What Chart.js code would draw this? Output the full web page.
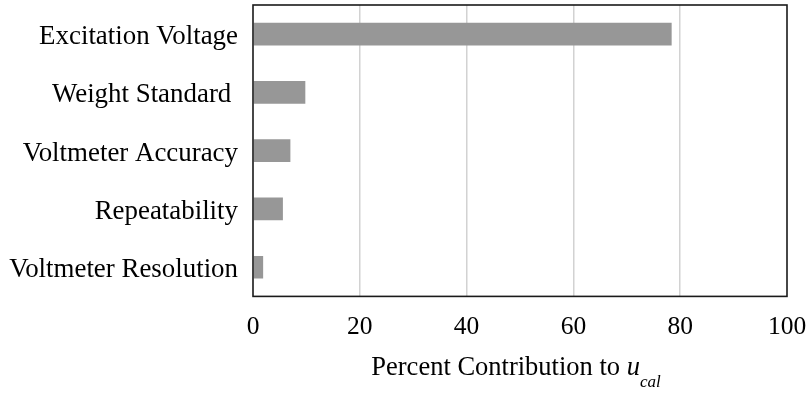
<!DOCTYPE html>
<html>
<head>
<meta charset="utf-8">
<script src="https://cdn.jsdelivr.net/npm/chart.js@4/dist/chart.umd.min.js"></script>
<style>
  html, body { margin: 0; padding: 0; background: #ffffff; }
  #wrap { width: 809px; height: 396px; position: relative; }
</style>
</head>
<body>
<div id="wrap"><canvas id="chart" width="809" height="396"></canvas></div>
<script>
// Uncertainty sources, listed top to bottom
const categories = [
  'Excitation Voltage',
  'Weight Standard ',
  'Voltmeter Accuracy',
  'Repeatability',
  'Voltmeter Resolution'
];
// Percent contribution of each source to the calibration uncertainty
const contributions = [78.4, 9.8, 7.0, 5.6, 1.9];
// Value axis ticks
const xTicks = [0, 20, 40, 60, 80, 100];
const axisTitleMain = 'Percent Contribution to ';
const axisTitleSymbol = 'u';
const axisTitleSubscript = 'cal';

const SERIF = '"Liberation Serif", "Times New Roman", serif';

// Black frame round the plot area
const frame = {
  id: 'frame',
  afterDatasetsDraw(chart) {
    const { ctx, chartArea: a } = chart;
    ctx.save();
    ctx.strokeStyle = '#1a1a1a';
    ctx.lineWidth = 1.6;
    ctx.strokeRect(a.left, a.top, a.right - a.left, a.bottom - a.top);
    ctx.restore();
  }
};

// Axis title with an italic symbol and subscript
const axisTitle = {
  id: 'axisTitle',
  afterDraw(chart) {
    const { ctx, chartArea: a } = chart;
    ctx.save();
    ctx.fillStyle = '#000000';
    ctx.textBaseline = 'alphabetic';
    ctx.textAlign = 'left';
    const mainFont = '26.5px ' + SERIF;
    const symFont = 'italic 26.5px ' + SERIF;
    const subFont = 'italic 17px ' + SERIF;
    ctx.font = mainFont; const w1 = ctx.measureText(axisTitleMain).width;
    ctx.font = symFont;  const w2 = ctx.measureText(axisTitleSymbol).width;
    ctx.font = subFont;  const w3 = ctx.measureText(axisTitleSubscript).width;
    const total = w1 + w2 + w3;
    let x = (a.left + a.right) / 2 - total / 2 - 4;
    const y = a.bottom + 79;
    ctx.font = mainFont; ctx.fillText(axisTitleMain, x, y); x += w1;
    ctx.font = symFont;  ctx.fillText(axisTitleSymbol, x, y); x += w2;
    ctx.font = subFont;  ctx.fillText(axisTitleSubscript, x, y + 12);
    ctx.restore();
  }
};

// Keep tick labels from pushing the plot area inwards
function noEdgePadding(axis) {
  axis.paddingTop = 0;
  axis.paddingBottom = 0;
  axis.paddingLeft = 0;
  axis.paddingRight = 0;
}

new Chart(document.getElementById('chart'), {
  type: 'bar',
  data: {
    labels: categories,
    datasets: [{
      data: contributions,
      backgroundColor: '#979797',
      borderWidth: 0,
      categoryPercentage: 1.0,
      barPercentage: 0.39
    }]
  },
  options: {
    indexAxis: 'y',
    responsive: false,
    animation: false,
    devicePixelRatio: 1,
    layout: { padding: { top: 5, right: 22, bottom: 37, left: 0 } },
    plugins: {
      legend: { display: false },
      tooltip: { enabled: false },
      title: { display: false }
    },
    scales: {
      x: {
        type: 'linear',
        min: 0,
        max: 100,
        afterBuildTicks(axis) { axis.ticks = xTicks.map(v => ({ value: v })); },
        afterFit: noEdgePadding,
        grid: {
          color: (c) => (c.tick && (c.tick.value === 0 || c.tick.value === 100)) ? 'rgba(0,0,0,0)' : '#d2d2d2',
          lineWidth: 1.5,
          drawTicks: false
        },
        border: { display: false },
        ticks: {
          color: '#000000',
          padding: 16,
          maxRotation: 0,
          font: { family: SERIF, size: 25.5 }
        }
      },
      y: {
        grid: { display: false, drawTicks: false },
        border: { display: false },
        afterFit(axis) { axis.width = 253; noEdgePadding(axis); },
        ticks: {
          color: '#000000',
          padding: 15,
          labelOffset: 3,
          font: { family: SERIF, size: 26.9 }
        }
      }
    }
  },
  plugins: [frame, axisTitle]
});
</script>
</body>
</html>
